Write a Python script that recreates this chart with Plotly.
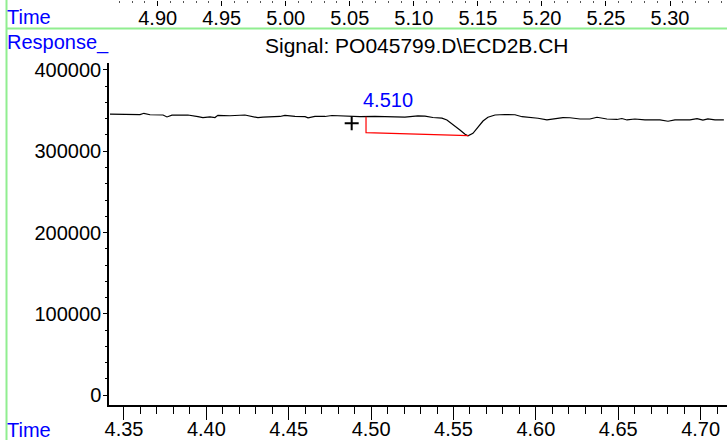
import plotly.graph_objects as go

# ---- data ----
time_min = [4.3415, 4.3506, 4.3597, 4.3621, 4.3658, 4.3737, 4.3761, 4.3791, 4.3888, 4.3949,
            4.3979, 4.4022, 4.4052, 4.4070, 4.4143, 4.4234, 4.4265, 4.4313, 4.4344, 4.4398,
            4.4447, 4.4477, 4.4538, 4.4599, 4.4617, 4.4659, 4.4720, 4.4762, 4.4841, 4.4932,
            4.5023, 4.5114, 4.5205, 4.5284, 4.5327, 4.5375, 4.5430, 4.5460, 4.5497, 4.5539,
            4.5570, 4.5588, 4.5618, 4.5648, 4.5679, 4.5709, 4.5752, 4.5812, 4.5873, 4.5916,
            4.5964, 4.6013, 4.6067, 4.6104, 4.6164, 4.6207, 4.6268, 4.6328, 4.6371, 4.6431,
            4.6492, 4.6522, 4.6553, 4.6601, 4.6662, 4.6753, 4.6802, 4.6844, 4.6935, 4.6978,
            4.7014, 4.7044, 4.7087, 4.7141]
response = [345800, 345200, 345000, 346700, 344900, 344600, 342200, 344400, 344600, 342500,
            341300, 342200, 341500, 344200, 343700, 344600, 343400, 341300, 341900, 342500,
            342800, 344200, 342800, 342500, 341200, 343000, 342800, 344000, 343100, 342500,
            342800, 342200, 341900, 343600, 343100, 341500, 340700, 338500, 333200, 326200,
            320900, 319100, 322100, 330200, 337200, 341800, 344600, 345200, 344900, 342500,
            341900, 340600, 338500, 339700, 341300, 341200, 339700, 339700, 341800, 339700,
            339100, 340300, 338500, 339700, 338500, 338500, 336900, 338500, 338500, 340100,
            338300, 339900, 338500, 338500]

baseline_t = [4.4969, 4.4969, 4.5590]
baseline_v = [342300, 322800, 319100]

peak_rt = 4.510
peak_label_y = 363000
plus_t = [4.4882]
plus_v = [334400]

bottom_range = [4.3409, 4.7160]
top_range = [4.8620, 5.3445]
y_range = [-12300, 408600]

signal_title = "Signal: PO045799.D\\ECD2B.CH"

# ---- layout geometry (pixels) ----
W, H = 727, 440
L, B = 109, 35
PW, PH = W - L, H - B


def px(xp):
    return (xp - L) / PW


def py(yp):
    return (PH - yp) / PH


FONT = "Arial, Liberation Sans, sans-serif"
BLUE = "#0000FF"
GREEN = "#90EE90"

fig = go.Figure()
fig.add_trace(go.Scatter(x=time_min, y=response, mode="lines",
                         line=dict(color="black", width=1.2), hoverinfo="skip"))
fig.add_trace(go.Scatter(x=baseline_t, y=baseline_v, mode="lines",
                         line=dict(color="red", width=1.2), hoverinfo="skip"))
fig.add_trace(go.Scatter(x=plus_t, y=plus_v, mode="markers",
                         marker=dict(symbol="cross-thin", size=10,
                                     line=dict(color="black", width=2))))
# dummy trace for the top time axis
fig.add_trace(go.Scatter(x=[top_range[0]], y=[None], xaxis="x2", yaxis="y",
                         mode="lines", showlegend=False))

tick_font = dict(family=FONT, size=20, color="black")

fig.update_layout(
    width=W, height=H,
    margin=dict(l=L, r=0, t=0, b=B, pad=0, autoexpand=False),
    paper_bgcolor="white", plot_bgcolor="white",
    showlegend=False,
    xaxis=dict(range=bottom_range, tick0=4.35, dtick=0.05, tickformat=".2f",
               ticks="outside", ticklen=13, tickwidth=1, tickcolor="black",
               ticklabelstandoff=-8,
               minor=dict(dtick=0.01, tick0=4.35, ticks="outside", ticklen=7,
                          tickwidth=1, tickcolor="black"),
               showline=True, linecolor="black", linewidth=1.5, automargin=False,
               showgrid=False, zeroline=False, tickfont=tick_font),
    xaxis2=dict(range=top_range, overlaying="x", anchor="free", position=1,
                side="bottom", tick0=4.90, dtick=0.05, tickformat=".2f",
                ticks="outside", ticklen=5, tickwidth=1, tickcolor="black",
                ticklabelstandoff=-5,
                minor=dict(dtick=0.01, tick0=4.90, ticks="outside", ticklen=2,
                           tickwidth=1, tickcolor="#555"), automargin=False,
                showline=False, showgrid=False, zeroline=False, tickfont=tick_font),
    yaxis=dict(range=y_range, domain=[0, py(63)], dtick=100000, tick0=0,
               tickformat="d", ticks="outside", ticklen=4, tickwidth=1,
               tickcolor="black", automargin=False, ticklabelstandoff=-2,
               minor=dict(dtick=20000, tick0=0, ticks="outside", ticklen=2,
                          tickwidth=1, tickcolor="black"),
               showline=True, linecolor="black", linewidth=1.5,
               showgrid=False, zeroline=False, tickfont=tick_font),
    shapes=[
        dict(type="line", xref="paper", yref="paper", x0=px(6.5), x1=px(6.5),
             y0=py(0), y1=py(H), line=dict(color=GREEN, width=2)),
        dict(type="line", xref="paper", yref="paper", x0=px(6), x1=px(W),
             y0=py(28.5), y1=py(28.5), line=dict(color=GREEN, width=2)),
    ],
    annotations=[
        dict(text="Time", xref="paper", yref="paper", x=px(5), y=py(17.5),
             xanchor="left", yanchor="middle", showarrow=False,
             font=dict(family=FONT, size=20, color=BLUE)),
        dict(text="Response_", xref="paper", yref="paper", x=px(5), y=py(42),
             xanchor="left", yanchor="middle", showarrow=False,
             font=dict(family=FONT, size=20, color=BLUE)),
        dict(text="Time", xref="paper", yref="paper", x=px(5), y=py(430),
             xanchor="left", yanchor="middle", showarrow=False,
             font=dict(family=FONT, size=20, color=BLUE)),
        dict(text=signal_title, xref="paper", yref="paper", x=px(417), y=py(45),
             xanchor="center", yanchor="middle", showarrow=False,
             font=dict(family=FONT, size=21, color="black")),
        dict(text=f"{peak_rt:.3f}", xref="x", yref="y", x=peak_rt, y=peak_label_y,
             xanchor="center", yanchor="middle", showarrow=False,
             font=dict(family=FONT, size=20, color=BLUE)),
    ],
)

fig.write_html("out.html",
               config={"displayModeBar": False},
               post_script="document.body.style.margin='0';"
                           "document.body.style.overflow='hidden';")
